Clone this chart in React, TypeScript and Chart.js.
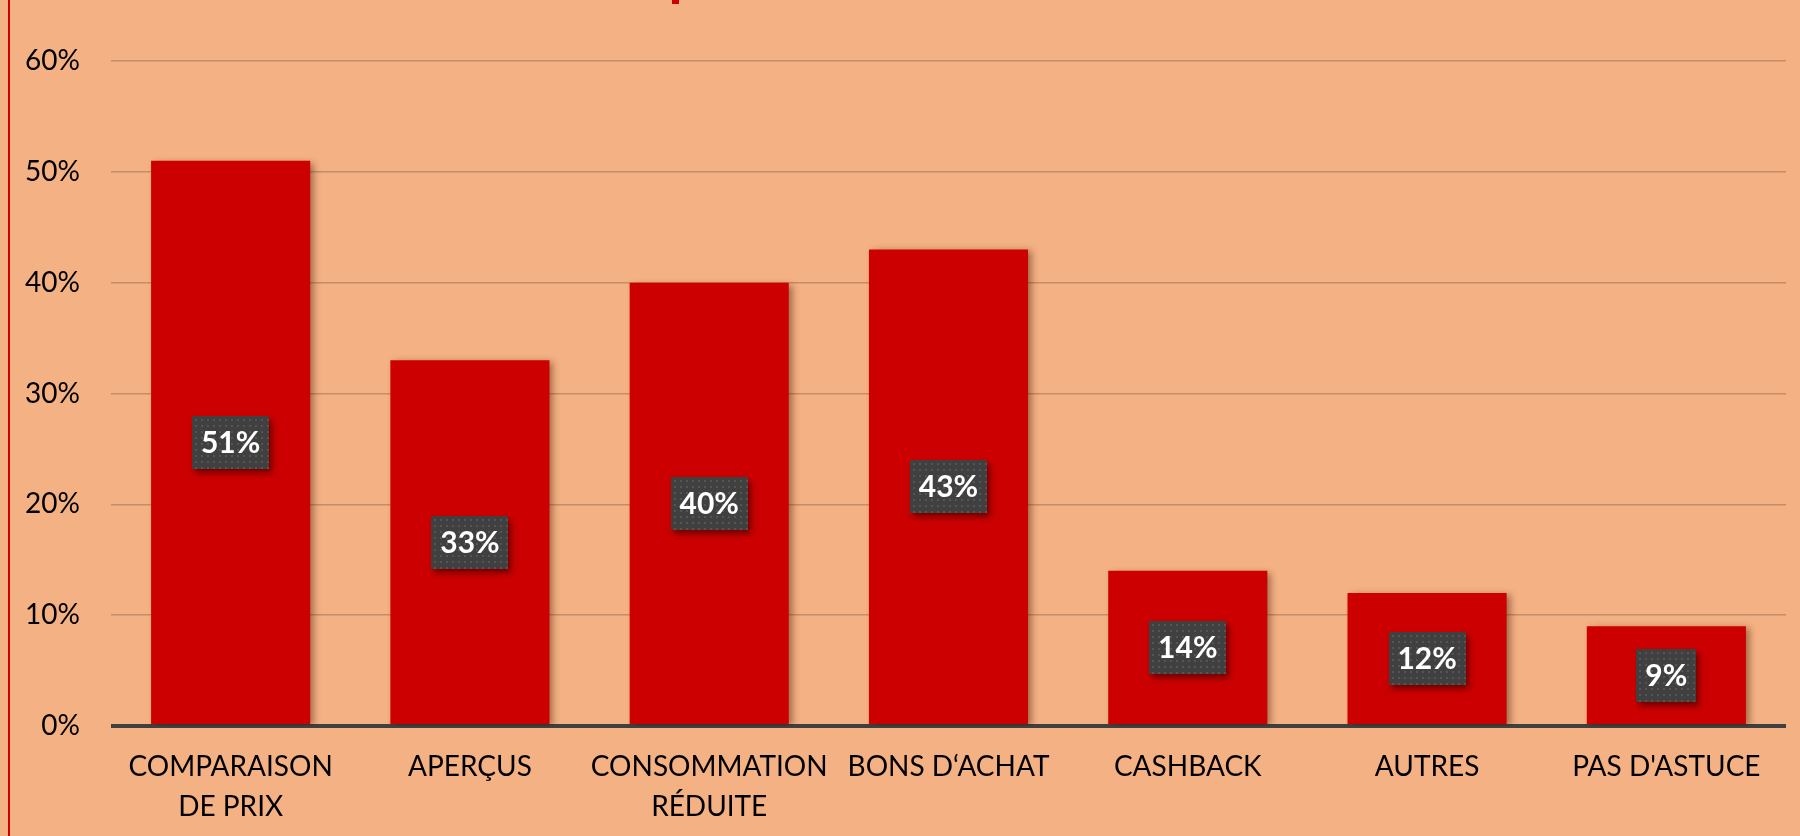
import React, { useEffect, useRef } from "react";
import { Chart, registerables } from "chart.js";

Chart.register(...registerables);

const categories: (string | string[])[] = [
  ["COMPARAISON", "DE PRIX"],
  "APERÇUS",
  ["CONSOMMATION", "RÉDUITE"],
  "BONS D‘ACHAT",
  "CASHBACK",
  "AUTRES",
  "PAS D'ASTUCE",
];
const values: number[] = [51, 33, 40, 43, 14, 12, 9];
const yMax = 60;
const yStep = 10;

const BG = "#F4B183";
const BAR = "#CC0000";
const FONT = "Lato, 'Open Sans', sans-serif";

const decorPlugin = {
  id: "decor",
  beforeDraw(chart: any) {
    const ctx = chart.ctx;
    ctx.save();
    ctx.fillStyle = BG;
    ctx.fillRect(0, 0, chart.width, chart.height);
    ctx.fillStyle = BAR;
    ctx.fillRect(8, 0, 2, chart.height);
    ctx.fillRect(672, 0, 7, 4);
    ctx.restore();
  },
};

const shadowPlugin = {
  id: "barShadow",
  beforeDatasetDraw(chart: any) {
    const ctx = chart.ctx;
    ctx.save();
    ctx.shadowColor = "rgba(60,20,0,0.45)";
    ctx.shadowBlur = 7;
    ctx.shadowOffsetX = 4;
    ctx.shadowOffsetY = 2;
  },
  afterDatasetDraw(chart: any) {
    chart.ctx.restore();
  },
};

const labelPlugin = {
  id: "boxLabels",
  afterDatasetsDraw(chart: any) {
    const ctx = chart.ctx;
    const meta = chart.getDatasetMeta(0);
    const data = chart.data.datasets[0].data as number[];
    ctx.save();
    ctx.font = `bold 30px ${FONT}`;
    meta.data.forEach((el: any, i: number) => {
      const text = `${data[i]}%`;
      const tw = ctx.measureText(text).width;
      const w = Math.round(tw + 18);
      const h = 53;
      const cx = el.x;
      const cy = (el.y + el.base) / 2;
      const x0 = Math.round(cx - w / 2);
      const y0 = Math.round(cy - h / 2);
      ctx.save();
      ctx.shadowColor = "rgba(40,0,0,0.55)";
      ctx.shadowBlur = 6;
      ctx.shadowOffsetX = 3;
      ctx.shadowOffsetY = 4;
      ctx.fillStyle = "#404040";
      ctx.fillRect(x0, y0, w, h);
      ctx.restore();
      ctx.fillStyle = "#555555";
      for (let yy = y0 + 3; yy < y0 + h - 1; yy += 6) {
        for (let xx = x0 + 3; xx < x0 + w - 1; xx += 6) {
          ctx.fillRect(xx, yy, 2, 2);
        }
      }
      ctx.fillStyle = "#FFFFFF";
      ctx.textAlign = "center";
      ctx.textBaseline = "middle";
      ctx.fillText(text, cx, cy + 1);
    });
    ctx.restore();
  },
};

export default function App() {
  const ref = useRef<HTMLCanvasElement | null>(null);
  useEffect(() => {
    if (!ref.current) return;
    const chart = new Chart(ref.current, {
      type: "bar",
      data: {
        labels: categories,
        datasets: [
          {
            data: values,
            backgroundColor: BAR,
            borderWidth: 0,
            categoryPercentage: 1,
            barPercentage: 0.665,
          },
        ],
      },
      options: {
        animation: false,
        responsive: false,
        layout: { padding: { top: 61, right: 14, left: 0, bottom: 0 } },
        plugins: {
          legend: { display: false },
          tooltip: { enabled: false },
          title: { display: false },
        },
        scales: {
          x: {
            grid: { display: false, drawTicks: false },
            border: { display: false },
            ticks: {
              color: "#000000",
              font: { family: FONT, size: 28, lineHeight: 1.43 },
              padding: 21,
              maxRotation: 0,
              autoSkip: false,
            },
            afterFit(scale: any) {
              scale.height = 110;
            },
          },
          y: {
            min: 0,
            max: yMax,
            grid: {
              drawTicks: false,
              color: (c: any) =>
                c.tick && c.tick.value === 0 ? "#404040" : "rgba(140,95,70,0.45)",
              lineWidth: (c: any) => (c.tick && c.tick.value === 0 ? 4 : 1.5),
            },
            border: { display: false },
            ticks: {
              stepSize: yStep,
              color: "#000000",
              font: { family: FONT, size: 28 },
              padding: 31,
              callback: (v: any) => `${v}%`,
            },
            afterFit(scale: any) {
              scale.width = 111;
            },
          },
        },
      },
      plugins: [decorPlugin, shadowPlugin, labelPlugin],
    });
    return () => chart.destroy();
  }, []);
  return (
    <div
      style={{
        position: "fixed",
        left: 0,
        top: 0,
        width: 1800,
        height: 836,
        background: BG,
        overflow: "hidden",
      }}
    >
      <canvas ref={ref} width={1800} height={836} style={{ display: "block" }} />
    </div>
  );
}
